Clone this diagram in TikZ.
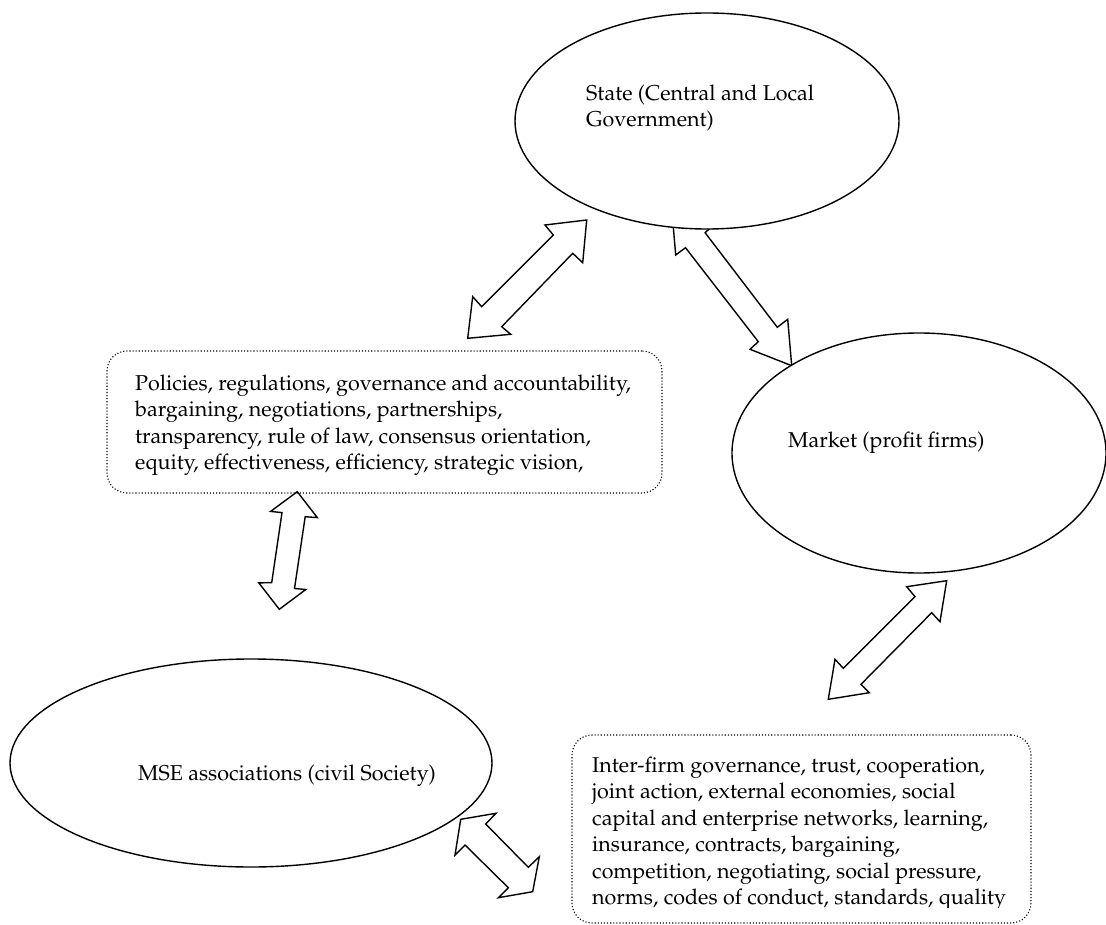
\documentclass[tikz,border=0pt]{standalone}
\usepackage[T1]{fontenc}
\usepackage{mathpazo}
\usetikzlibrary{shapes.geometric}
\begin{document}
\begin{tikzpicture}[x=1pt,y=-1pt,
  oval/.style={draw, line width=1.4pt, fill=white, ellipse, inner sep=0pt},
  dotbox/.style={draw, dotted, line width=1.1pt, rounded corners=20pt, inner sep=0pt},
  blockarrow/.style={draw, line width=1.4pt, fill=white, line join=miter},
  lbl/.style={inner sep=0pt, anchor=north west, align=left, font=\fontencoding{T1}\fontfamily{ppl}\fontsize{21.5}{26.5}\selectfont}
]
\useasboundingbox (0,0) rectangle (1106,925);

% block arrows
\draw[blockarrow] (586.7,220) -- (582.7,262.7) -- (572.7,253.3) -- (501.7,326.7) -- (510.7,334.3) -- (467.7,338.3) -- (472.7,296.7) -- (481.7,306.7) -- (553.3,235) -- (545,225) -- cycle;
\draw[blockarrow] (671.7,208.7) -- (713.4,225.1) -- (705.1,232.7) -- (777.3,327.3) -- (787.7,319.3) -- (791.7,365.7) -- (750,349.3) -- (758.3,341.7) -- (685.5,247.7) -- (675.7,255) -- cycle;
\draw[blockarrow] (297.3,491.7) -- (317.3,517.6) -- (305.2,516.7) -- (294.5,588.5) -- (305.8,589.5) -- (279.3,609.3) -- (258.8,582.9) -- (271.7,582.6) -- (282,512.6) -- (270.6,511.4) -- cycle;
\draw[blockarrow] (946.7,580.7) -- (940,621.7) -- (931.7,612.7) -- (861,684.3) -- (869.3,692.7) -- (828.3,699.3) -- (835,659.3) -- (843.3,668.3) -- (915,596.7) -- (906.7,586.7) -- cycle;
\draw[blockarrow] (460.7,819.3) -- (496,813.3) -- (485.7,824) -- (528.3,867.3) -- (539.3,856.7) -- (532.7,891.7) -- (498.3,897.7) -- (508.3,887.7) -- (465,845) -- (455,855) -- cycle;

% ellipses
\node[oval, minimum width=384pt, minimum height=216pt] (state) at (707,121) {};
\node[oval, minimum width=374pt, minimum height=240pt] (market) at (919,453) {};
\node[oval, minimum width=482pt, minimum height=208pt] (mse) at (251,763) {};

\node[lbl] (statetxt) at (586,81.45) {\strut State (Central and Local\\Government)};
\node[lbl] (markettxt) at (788,428.45) {\strut Market (profit firms)};
\node[lbl] (msetxt) at (138,761.45) {\strut MSE associations (civil Society)};

% dotted boxes
\node[dotbox, minimum width=555pt, minimum height=142pt] (policy) at (384.5,422) {};
\node[lbl] (policytxt) at (135,371.45) {\strut Policies, regulations, governance and accountability,\\
bargaining, negotiations, partnerships,\\
transparency, rule of law, consensus orientation,\\
equity, effectiveness, efficiency, strategic vision,};

\node[dotbox, minimum width=459pt, minimum height=188pt] (interfirm) at (801.5,829) {};
\begin{scope}
\clip (572,735) rectangle (1031,907);
\node[lbl] (interfirmtxt) at (592,753.45) {\strut Inter-firm governance, trust, cooperation,\\
joint action, external economies, social\\
capital and enterprise networks, learning,\\
insurance, contracts, bargaining,\\
competition, negotiating, social pressure,\\
norms, codes of conduct, standards, quality};
\end{scope}
\end{tikzpicture}
\end{document}
